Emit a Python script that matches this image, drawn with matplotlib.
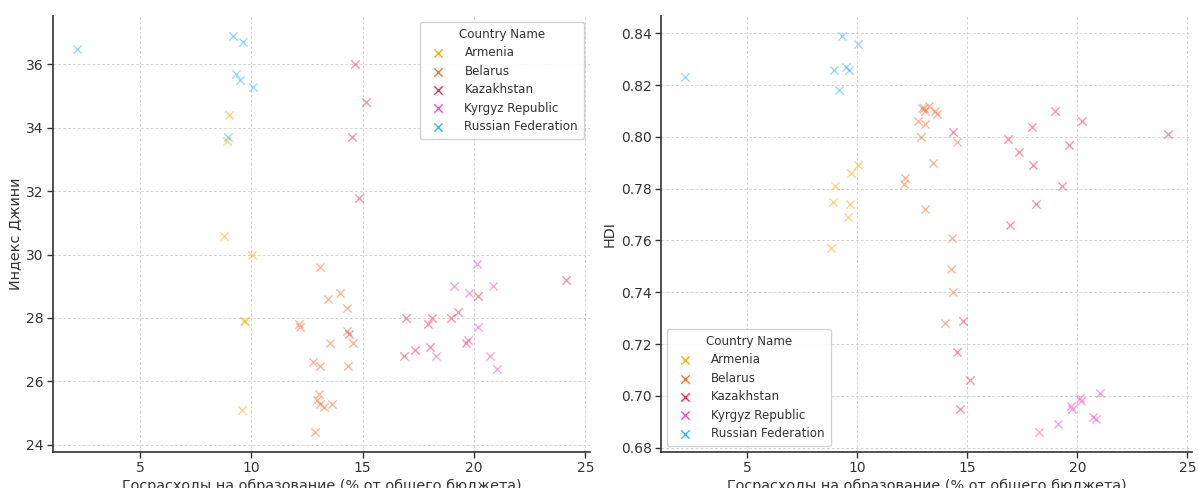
import matplotlib
matplotlib.use("Agg")
import matplotlib.pyplot as plt

# ---- data ----
countries = ["Armenia", "Belarus", "Kazakhstan", "Kyrgyz Republic", "Russian Federation"]

armenia_edu = [8.79, 8.89, 9.00, 9.59, 9.68, 9.71, 10.02]
armenia_gini = [30.6, 33.6, 34.4, 25.1, 27.9, 27.9, 30.0]
armenia_hdi = [0.757, 0.775, 0.781, 0.769, 0.774, 0.786, 0.789]

belarus_edu = [12.12, 12.19, 12.77, 12.88, 12.94, 13.04, 13.08, 13.10, 13.10,
               13.25, 13.46, 13.53, 13.62, 13.97, 14.28, 14.31, 14.36, 14.55]
belarus_gini = [27.8, 27.7, 26.6, 24.4, 25.4, 25.6, 25.3, 29.6, 26.5,
                25.2, 28.6, 27.2, 25.3, 28.8, 27.6, 28.3, 26.5, 27.2]
belarus_hdi = [0.782, 0.784, 0.806, 0.800, 0.811, 0.811, 0.810, 0.772, 0.805,
               0.812, 0.790, 0.810, 0.809, 0.728, 0.749, 0.761, 0.740, 0.798]

kazakhstan_edu = [14.37, 14.52, 14.67, 14.82, 15.13, 16.84, 16.95, 17.35,
                  17.92, 18.00, 18.13, 18.98, 19.29, 19.63, 20.19, 24.11]
kazakhstan_gini = [27.5, 33.7, 36.0, 31.8, 34.8, 26.8, 28.0, 27.0,
                   27.8, 27.1, 28.0, 28.0, 28.2, 27.2, 28.7, 29.2]
kazakhstan_hdi = [0.802, 0.717, 0.695, 0.729, 0.706, 0.799, 0.766, 0.794,
                  0.804, 0.789, 0.774, 0.810, 0.781, 0.797, 0.806, 0.801]

kyrgyz_edu = [18.28, 19.10, 19.72, 19.76, 20.11, 20.18, 20.72, 20.85, 21.02]
kyrgyz_gini = [26.8, 29.0, 27.3, 28.8, 29.7, 27.7, 26.8, 29.0, 26.4]
kyrgyz_hdi = [0.686, 0.689, 0.696, 0.695, 0.699, 0.698, 0.692, 0.691, 0.701]

russia_edu = [2.19, 8.95, 9.17, 9.29, 9.51, 9.61, 10.06]
russia_gini = [36.5, 33.7, 36.9, 35.7, 35.5, 36.7, 35.3]
russia_hdi = [0.823, 0.826, 0.818, 0.839, 0.827, 0.826, 0.836]

colors = ["#FFAA00", "#FF6F2E", "#FF2A4F", "#FF4DB8", "#2EB8F5"]

edu = [armenia_edu, belarus_edu, kazakhstan_edu, kyrgyz_edu, russia_edu]
gini = [armenia_gini, belarus_gini, kazakhstan_gini, kyrgyz_gini, russia_gini]
hdi = [armenia_hdi, belarus_hdi, kazakhstan_hdi, kyrgyz_hdi, russia_hdi]

xlabel = "Госрасходы на образование (% от общего бюджета)"

plt.rcParams["font.family"] = ["DejaVu Sans"]
text_color = "#333333"
plt.rcParams["text.color"] = text_color
plt.rcParams["axes.labelcolor"] = text_color
plt.rcParams["xtick.color"] = text_color
plt.rcParams["ytick.color"] = text_color

fig = plt.figure(figsize=(11.98, 4.88), dpi=100)
ax1 = fig.add_axes([0.0442, 0.074, 0.4483, 0.893])
ax2 = fig.add_axes([0.5518, 0.074, 0.4432, 0.893])


def style(ax):
    ax.set_facecolor("white")
    ax.grid(True, linestyle=(0, (3, 2)), color="#d5d5d5", linewidth=0.7)
    ax.set_axisbelow(True)
    for s in ["top", "right"]:
        ax.spines[s].set_visible(False)
    for s in ["left", "bottom"]:
        ax.spines[s].set_color("#333333")
        ax.spines[s].set_linewidth(1.2)
    ax.tick_params(axis="both", direction="out", length=4, width=1,
                   labelsize=10, pad=2.5, colors=text_color)


for ax, yvals, ylabel, loc in [(ax1, gini, "Индекс Джини", "upper right"),
                               (ax2, hdi, "HDI", "lower left")]:
    style(ax)
    for name, c, xs, ys in zip(countries, colors, edu, yvals):
        ax.scatter(xs, ys, marker="x", s=36, color=c, alpha=0.5,
                   linewidths=1.0, label=name)
    ax.set_xlabel(xlabel, fontsize=10.4, labelpad=3)
    ax.set_ylabel(ylabel, fontsize=10.4, labelpad=3)
    ax.set_xticks([5, 10, 15, 20, 25])
    leg = ax.legend(title="Country Name", loc=loc, fontsize=8.6,
                    title_fontsize=8.6, frameon=True, fancybox=True,
                    edgecolor="#cccccc", framealpha=0.9, scatterpoints=1,
                    handletextpad=1.2, borderpad=0.5, labelspacing=0.45)
    for h in leg.legend_handles:
        h.set_alpha(1.0)

ax1.set_yticks([24, 26, 28, 30, 32, 34, 36])
ax2.set_yticks([0.68, 0.70, 0.72, 0.74, 0.76, 0.78, 0.80, 0.82, 0.84])
ax2.set_yticklabels(["0.68", "0.70", "0.72", "0.74", "0.76", "0.78",
                     "0.80", "0.82", "0.84"])

fig.savefig("out.png", dpi=100)
